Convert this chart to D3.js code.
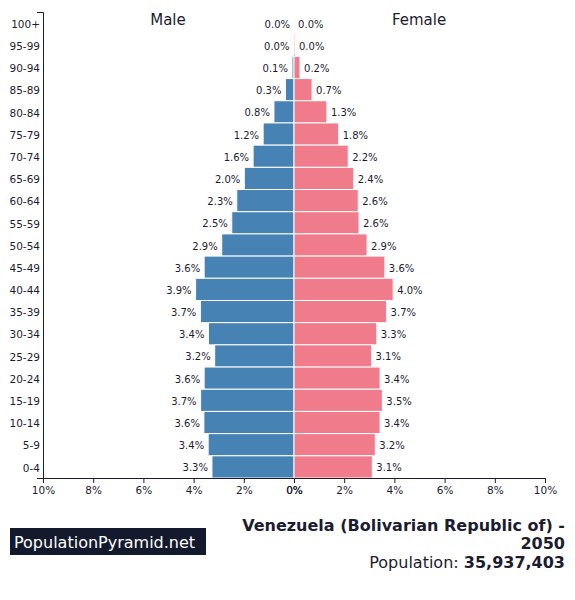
<!DOCTYPE html>
<html><head><meta charset="utf-8">
<script src="https://cdn.jsdelivr.net/npm/d3@7"></script>
<style>body{margin:0;background:#fff;font-family:"DejaVu Sans",sans-serif;}</style>
</head><body><svg id="c" width="575" height="600"></svg>
<script>
const ageGroups = ["100+","95-99","90-94","85-89","80-84","75-79","70-74","65-69","60-64","55-59","50-54","45-49","40-44","35-39","30-34","25-29","20-24","15-19","10-14","5-9","0-4"];
const maleValues = [0.0,0.02,0.08,0.34,0.8,1.23,1.63,1.98,2.28,2.48,2.88,3.58,3.92,3.73,3.41,3.16,3.58,3.72,3.59,3.42,3.27];
const femaleValues = [0.004,0.04,0.24,0.72,1.31,1.78,2.16,2.38,2.56,2.59,2.91,3.62,3.95,3.69,3.3,3.09,3.43,3.52,3.43,3.24,3.12];
const maleLabels = ["0.0%","0.0%","0.1%","0.3%","0.8%","1.2%","1.6%","2.0%","2.3%","2.5%","2.9%","3.6%","3.9%","3.7%","3.4%","3.2%","3.6%","3.7%","3.6%","3.4%","3.3%"];
const femaleLabels = ["0.0%","0.0%","0.2%","0.7%","1.3%","1.8%","2.2%","2.4%","2.6%","2.6%","2.9%","3.6%","4.0%","3.7%","3.3%","3.1%","3.4%","3.5%","3.4%","3.2%","3.1%"];
const tickValues = [0,2,4,6,8,10];

(function(){
const svg = d3.select("#c");
const txt = "#1c1c30";
const pLeft = 43, pRight = 545, pMid = 294, pTop = 12, pBottom = 478;
const xM = d3.scaleLinear().domain([10,0]).range([pLeft, pMid]);
const xF = d3.scaleLinear().domain([0,10]).range([pMid, pRight]);
const y = d3.scaleBand().domain(ageGroups).range([pTop, pBottom]).padding(0);

const g = svg.append("g");
g.selectAll("rect.m").data(ageGroups).join("rect").attr("class","m")
  .attr("x",(d,i)=>xM(maleValues[i])).attr("y",d=>y(d))
  .attr("width",(d,i)=>pMid - xM(maleValues[i])).attr("height",y.bandwidth())
  .attr("fill","#4682b4").attr("stroke","#fff").attr("stroke-width",1);
g.selectAll("rect.f").data(ageGroups).join("rect").attr("class","f")
  .attr("x",pMid).attr("y",d=>y(d))
  .attr("width",(d,i)=>xF(femaleValues[i]) - pMid).attr("height",y.bandwidth())
  .attr("fill","#f07b8a").attr("stroke","#fff").attr("stroke-width",1);

g.selectAll("text.ml").data(ageGroups).join("text").attr("class","ml")
  .attr("x",(d,i)=>xM(maleValues[i]) - 4).attr("y",d=>y(d)+y.bandwidth()/2+1)
  .attr("dy","0.35em").attr("text-anchor","end").attr("font-size",10).attr("fill",txt)
  .text((d,i)=>maleLabels[i]);
g.selectAll("text.fl").data(ageGroups).join("text").attr("class","fl")
  .attr("x",(d,i)=>xF(femaleValues[i]) + 4).attr("y",d=>y(d)+y.bandwidth()/2+1)
  .attr("dy","0.35em").attr("text-anchor","start").attr("font-size",10).attr("fill",txt)
  .text((d,i)=>femaleLabels[i]);

const ya = svg.append("g").attr("transform",`translate(${pLeft},0)`)
  .call(d3.axisLeft(y).tickSize(0).tickSizeOuter(6).tickPadding(3));
ya.selectAll("text").attr("font-size",10.5).attr("fill",txt).attr("font-family","DejaVu Sans").attr("dy","0.45em");
ya.select(".domain").attr("stroke",txt);

const fmt = d=>d+"%";
const bm = svg.append("g").attr("transform",`translate(0,${pBottom})`)
  .call(d3.axisBottom(xM).tickValues(tickValues).tickFormat(fmt).tickSize(5).tickSizeOuter(0));
const bf = svg.append("g").attr("transform",`translate(0,${pBottom})`)
  .call(d3.axisBottom(xF).tickValues(tickValues).tickFormat(fmt).tickSize(5).tickSizeOuter(0));
[bm,bf].forEach(a=>{
  a.selectAll("text").attr("font-size",10.5).attr("fill",txt).attr("font-family","DejaVu Sans").attr("y",9);
  a.selectAll("line").attr("stroke",txt);
  a.select(".domain").attr("stroke",txt);
});

svg.append("text").attr("x",168).attr("y",24.5).attr("text-anchor","middle").attr("font-size",15).attr("fill",txt).text("Male");
svg.append("text").attr("x",419).attr("y",24.5).attr("text-anchor","middle").attr("font-size",15).attr("fill",txt).text("Female");

svg.append("rect").attr("x",10).attr("y",528).attr("width",196).attr("height",27).attr("fill","#141a2e");
svg.append("text").attr("x",14).attr("y",547.5).attr("font-size",16).attr("fill","#fff").text("PopulationPyramid.net");
svg.append("text").attr("x",565).attr("y",530.5).attr("text-anchor","end").attr("font-size",16).attr("font-weight","bold").attr("fill",txt).text("Venezuela (Bolivarian Republic of) -");
svg.append("text").attr("x",565).attr("y",548.5).attr("text-anchor","end").attr("font-size",16).attr("font-weight","bold").attr("fill",txt).text("2050");
const pt = svg.append("text").attr("x",565).attr("y",567.5).attr("text-anchor","end").attr("font-size",16).attr("fill",txt);
pt.append("tspan").text("Population: ");
pt.append("tspan").attr("font-weight","bold").text("35,937,403");
})();
</script></body></html>
